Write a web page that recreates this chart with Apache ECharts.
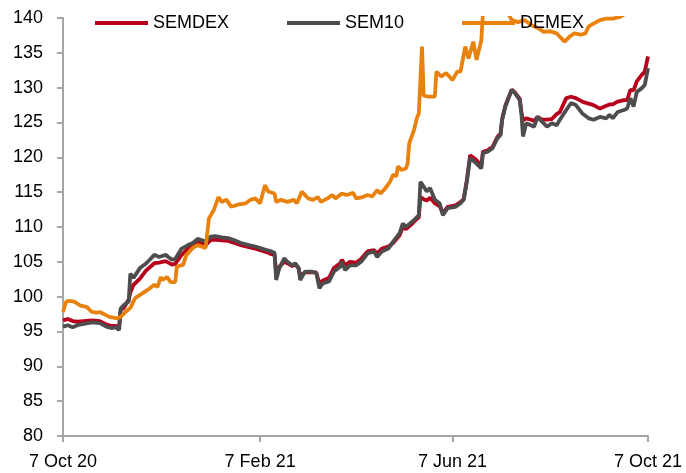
<!DOCTYPE html>
<html>
<head>
<meta charset="utf-8">
<script src="https://cdn.jsdelivr.net/npm/echarts@6/dist/echarts.min.js"></script>
<style>
html,body{margin:0;padding:0;background:#fff;}
#c{width:686px;height:473px;}
</style>
</head>
<body>
<div id="c"></div>
<script>
// ---- data ----
const seriesNames = ['SEMDEX', 'SEM10', 'DEMEX'];
const xTickLabels = ['2020-10-07', '2021-02-07', '2021-06-07', '2021-10-07'];
const yMin = 80, yMax = 140, yStep = 5;

const semDates = ['2020-10-07','2020-10-10','2020-10-13','2020-10-16','2020-10-20','2020-10-25','2020-10-30','2020-11-03','2020-11-06','2020-11-09','2020-11-11','2020-11-12','2020-11-14','2020-11-17','2020-11-18','2020-11-20','2020-11-24','2020-11-28','2020-12-03','2020-12-06','2020-12-10','2020-12-14','2020-12-16','2020-12-20','2020-12-24','2020-12-27','2020-12-30','2021-01-04','2021-01-07','2021-01-10','2021-01-14','2021-01-18','2021-01-22','2021-01-26','2021-01-31','2021-02-04','2021-02-08','2021-02-11','2021-02-14','2021-02-16','2021-02-17','2021-02-19','2021-02-22','2021-02-24','2021-02-27','2021-03-01','2021-03-03','2021-03-04','2021-03-07','2021-03-11','2021-03-14','2021-03-16','2021-03-18','2021-03-22','2021-03-25','2021-03-29','2021-03-30','2021-04-01','2021-04-04','2021-04-08','2021-04-11','2021-04-15','2021-04-19','2021-04-21','2021-04-24','2021-04-28','2021-05-01','2021-05-05','2021-05-07','2021-05-09','2021-05-13','2021-05-15','2021-05-17','2021-05-18','2021-05-20','2021-05-22','2021-05-24','2021-05-27','2021-05-30','2021-06-01','2021-06-04','2021-06-09','2021-06-12','2021-06-14','2021-06-16','2021-06-18','2021-06-22','2021-06-25','2021-06-26','2021-06-29','2021-07-02','2021-07-05','2021-07-07','2021-07-08','2021-07-10','2021-07-12','2021-07-14','2021-07-16','2021-07-19','2021-07-20','2021-07-21','2021-07-23','2021-07-26','2021-07-28','2021-07-30','2021-08-02','2021-08-05','2021-08-08','2021-08-11','2021-08-13','2021-08-17','2021-08-20','2021-08-23','2021-08-27','2021-08-31','2021-09-03','2021-09-07','2021-09-11','2021-09-13','2021-09-15','2021-09-18','2021-09-22','2021-09-24','2021-09-26','2021-09-28','2021-09-30','2021-10-03','2021-10-05','2021-10-07'];

const semdex = [96.6,96.8,96.5,96.4,96.5,96.6,96.5,96.0,95.8,95.8,95.6,98.1,98.4,99.6,100.6,101.7,102.6,103.8,104.8,104.9,105.1,104.6,104.7,106.0,106.9,107.2,107.8,107.4,108.1,108.2,108.1,108.0,107.7,107.4,107.1,106.9,106.6,106.4,106.1,106.0,103.5,104.3,105.0,104.8,104.4,104.6,104.1,103.0,103.5,103.5,103.5,101.8,102.3,102.7,104.1,104.8,105.3,104.5,105.0,104.9,105.4,106.5,106.7,106.2,106.9,107.2,107.7,108.8,110.0,109.7,110.5,111.0,111.4,114.3,114.0,113.8,114.2,113.4,113.0,112.0,112.9,113.1,113.6,114.0,116.8,120.3,119.6,118.8,120.8,121.0,121.5,122.9,123.4,125.5,127.4,128.6,129.7,129.3,128.4,126.5,125.3,125.6,125.4,125.2,125.8,125.4,125.4,125.5,126.2,126.5,128.5,128.7,128.5,128.0,127.7,127.5,127.0,127.4,127.6,127.6,128.0,128.2,128.2,129.7,129.6,130.9,131.8,132.3,134.5];

const sem10 = [95.7,95.9,95.6,95.9,96.1,96.3,96.2,95.7,95.5,95.6,95.2,98.3,98.8,99.3,103.3,102.7,104.1,104.8,106.0,105.7,106.0,105.3,105.4,106.9,107.4,107.7,108.3,107.9,108.6,108.7,108.5,108.4,108.1,107.7,107.4,107.2,106.9,106.7,106.5,106.3,102.4,104.1,105.5,105.0,104.5,104.8,104.1,102.4,103.6,103.6,103.4,101.2,101.9,102.2,103.6,104.3,105.0,103.8,104.5,104.5,105.0,106.2,106.5,105.7,106.5,106.9,107.9,109.1,110.5,110.0,110.8,111.2,111.7,116.5,115.8,115.1,115.6,113.9,113.4,111.7,112.7,112.9,113.4,113.9,116.5,119.9,119.1,118.4,120.6,120.8,121.3,122.7,123.2,125.4,127.3,128.5,129.7,129.2,128.2,126.3,123.0,124.9,124.6,124.4,125.8,125.1,124.4,124.9,124.6,125.4,126.8,127.8,127.5,126.3,125.6,125.4,125.8,125.6,126.1,125.6,126.5,126.8,127.0,128.5,127.3,129.4,129.9,130.4,132.8];

const demexDates = ['2020-10-07','2020-10-09','2020-10-11','2020-10-14','2020-10-18','2020-10-22','2020-10-25','2020-10-28','2020-10-30','2020-11-05','2020-11-10','2020-11-12','2020-11-15','2020-11-18','2020-11-21','2020-11-25','2020-11-29','2020-12-03','2020-12-05','2020-12-07','2020-12-08','2020-12-11','2020-12-13','2020-12-16','2020-12-17','2020-12-21','2020-12-23','2020-12-27','2020-12-30','2021-01-04','2021-01-06','2021-01-07','2021-01-09','2021-01-12','2021-01-14','2021-01-17','2021-01-20','2021-01-24','2021-01-29','2021-02-01','2021-02-04','2021-02-07','2021-02-10','2021-02-12','2021-02-16','2021-02-17','2021-02-20','2021-02-24','2021-02-28','2021-03-02','2021-03-05','2021-03-09','2021-03-12','2021-03-15','2021-03-17','2021-03-21','2021-03-24','2021-03-26','2021-03-30','2021-04-02','2021-04-06','2021-04-08','2021-04-12','2021-04-15','2021-04-18','2021-04-21','2021-04-23','2021-04-26','2021-04-29','2021-05-01','2021-05-03','2021-05-04','2021-05-06','2021-05-09','2021-05-10','2021-05-11','2021-05-14','2021-05-16','2021-05-17','2021-05-18','2021-05-19','2021-05-20','2021-05-23','2021-05-27','2021-05-28','2021-05-31','2021-06-03','2021-06-07','2021-06-10','2021-06-12','2021-06-15','2021-06-17','2021-06-20','2021-06-22','2021-06-25','2021-06-26','2021-06-29','2021-07-04','2021-07-10','2021-07-14','2021-07-18','2021-07-22','2021-07-26','2021-07-30','2021-08-03','2021-08-07','2021-08-11','2021-08-13','2021-08-16','2021-08-19','2021-08-22','2021-08-26','2021-08-29','2021-08-31','2021-09-03','2021-09-07','2021-09-11','2021-09-15','2021-09-20','2021-09-26','2021-10-07'];

const demex = [97.8,99.3,99.4,99.3,98.7,98.5,97.8,97.7,97.8,97.1,96.9,97.1,97.8,98.4,99.8,100.4,101.0,101.7,101.4,102.8,102.4,102.8,102.1,102.1,104.3,104.6,106.0,107.0,107.4,107.0,111.2,111.0,112.4,114.3,113.6,113.9,112.9,113.2,113.4,113.9,114.1,113.4,116.0,115.1,114.8,113.6,113.9,113.6,113.9,113.4,115.1,114.1,113.9,114.3,113.6,114.1,114.6,114.1,114.8,114.6,114.9,114.1,114.3,114.6,114.4,115.3,114.8,115.5,116.5,117.5,117.3,118.7,118.2,118.4,119.1,122.0,123.9,125.8,126.3,131.1,135.9,128.9,128.7,128.7,132.3,131.6,132.1,131.1,132.3,132.3,135.9,134.2,136.6,134.0,136.8,140.7,141.9,142.0,141.4,139.7,139.4,139.7,139.0,138.6,138.0,138.1,137.8,137.3,136.6,137.3,137.8,137.6,137.8,138.8,139.2,139.7,139.9,139.9,140.2,141.1,141.4];

const colors = ['#B8001C', '#4D4D4D', '#E8820C'];
// ---- chart ----
const FONT = 'Liberation Sans';
const MONTHS = ['Jan','Feb','Mar','Apr','May','Jun','Jul','Aug','Sep','Oct','Nov','Dec'];
function ts(s){ const p = s.split('-').map(Number); return new Date(p[0], p[1]-1, p[2]).getTime(); }
function fmt(v){ const d = new Date(v); return d.getDate() + ' ' + MONTHS[d.getMonth()] + ' ' + String(d.getFullYear()).slice(2); }
const tickTs = xTickLabels.map(ts);

const chart = echarts.init(document.getElementById('c'), null, {renderer: 'canvas'});
chart.setOption({
  animation: false,
  backgroundColor: '#fff',
  color: colors,
  grid: {left: 63, right: 38, top: 18, bottom: 37, containLabel: false, outerBoundsMode: 'none'},
  legend: {
    data: seriesNames,
    left: 90, top: 9,
    icon: 'rect', itemWidth: 53, itemHeight: 4, itemGap: 58,
    textStyle: {fontFamily: FONT, fontSize: 18, color: '#000'}
  },
  xAxis: {
    type: 'value',
    min: tickTs[0], max: tickTs[tickTs.length-1],
    splitLine: {show: false},
    axisLine: {show: true, lineStyle: {color: '#A6A6A6', width: 2}},
    axisTick: {show: true, length: 6, lineStyle: {color: '#A6A6A6', width: 2}, customValues: tickTs},
    axisLabel: {customValues: tickTs, formatter: fmt, margin: 17, fontFamily: FONT, fontSize: 18, color: '#000', hideOverlap: false, showMinLabel: true, showMaxLabel: true}
  },
  yAxis: {
    type: 'value', min: yMin, max: yMax, interval: yStep,
    splitLine: {show: false},
    axisLine: {show: true, lineStyle: {color: '#A6A6A6', width: 2}},
    axisTick: {show: true, length: 6, lineStyle: {color: '#A6A6A6', width: 2}},
    axisLabel: {margin: 20, fontFamily: FONT, fontSize: 18, color: '#000'}
  },
  series: [
    {name: seriesNames[0], type: 'line', data: semDates.map((d,i)=>[ts(d), semdex[i]]), showSymbol: false, symbol: 'none', lineStyle: {width: 3.8, color: colors[0]}, itemStyle: {color: colors[0]}, clip: true},
    {name: seriesNames[1], type: 'line', data: semDates.map((d,i)=>[ts(d), sem10[i]]), showSymbol: false, symbol: 'none', lineStyle: {width: 3.8, color: colors[1]}, itemStyle: {color: colors[1]}, clip: true},
    {name: seriesNames[2], type: 'line', data: demexDates.map((d,i)=>[ts(d), demex[i]]), showSymbol: false, symbol: 'none', lineStyle: {width: 3.8, color: colors[2]}, itemStyle: {color: colors[2]}, clip: true}
  ]
});
</script>
</body>
</html>
